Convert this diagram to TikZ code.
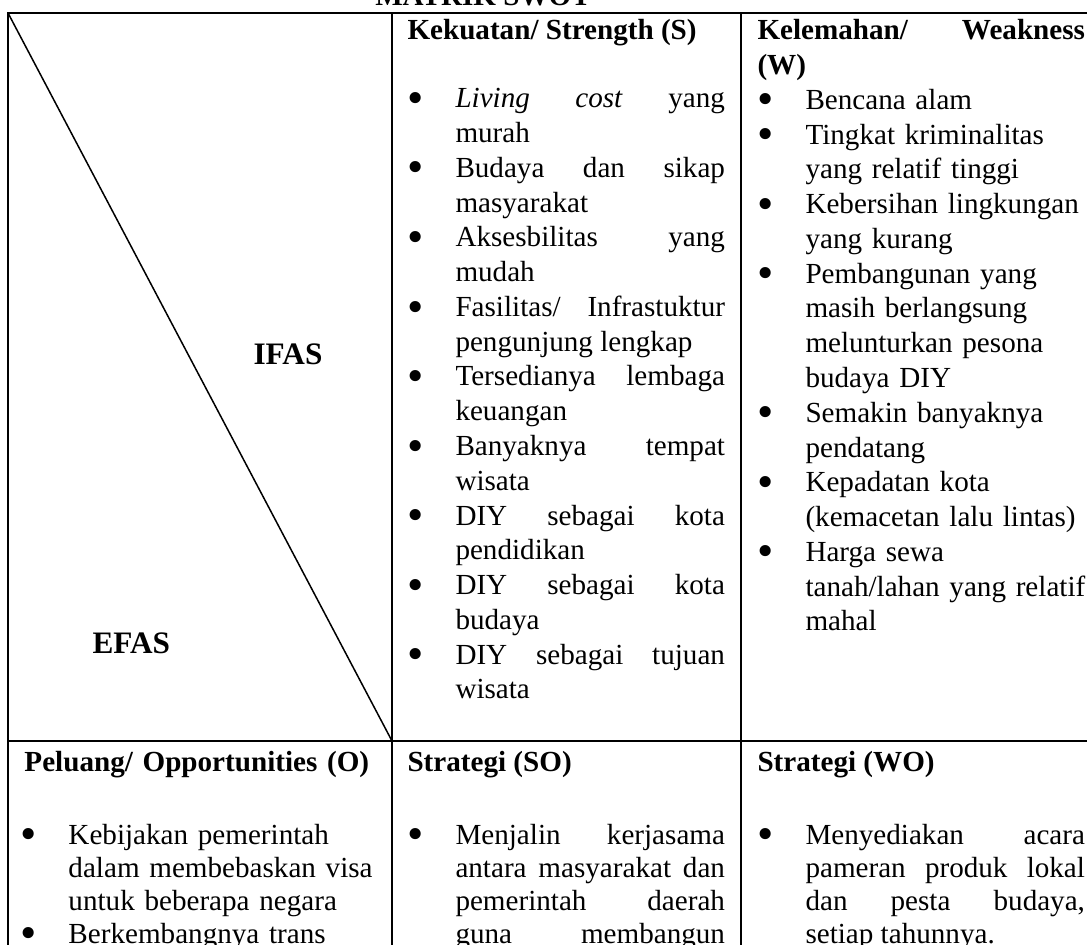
\documentclass[tikz,border=0pt]{standalone}
\usepackage{fontspec}
\setmainfont{Liberation Serif}
\usetikzlibrary{positioning}

% one bullet line of a cell
\newcommand{\swbullet}{\raisebox{-2.2pt}{\scalebox{1.6}{\textbullet}}}
\newcommand{\switem}[1]{\par\noindent\hangindent=19.2pt\hangafter=1\makebox[19.2pt][l]{\swbullet}#1}

\begin{document}
\begin{tikzpicture}[x=0.4pt, y=-0.4pt, font=\fontsize{11.65}{13.9}\selectfont]
		\tikzstyle{grid}=[draw=black, line width=1.1pt]
		\tikzstyle{diag}=[draw=black, line width=0.6pt]
		\tikzstyle{cell}=[anchor=base west, inner sep=0pt, align=justify]
		\tikzstyle{lowcell}=[cell, font=\fontsize{11.65}{13.2}\selectfont]
		\tikzstyle{corner}=[anchor=base west, inner sep=0pt, font=\fontsize{12.5}{14}\selectfont\bfseries]

		\useasboundingbox (0,0) rectangle (1087,945);

		% table grid
		\coordinate (tl) at (8,13);
		\coordinate (tr) at (1100,13);
		\coordinate (bl) at (8,960);
		\coordinate (c1t) at (392,13);
		\coordinate (c1b) at (392,960);
		\coordinate (c2t) at (741,13);
		\coordinate (c2b) at (741,960);
		\coordinate (ml) at (8,741);
		\coordinate (mr) at (1100,741);
		\coordinate (mx) at (392,741);

		\draw[grid] (tr) -- (tl) -- (bl);
		\draw[grid] (c1t) -- (c1b);
		\draw[grid] (c2t) -- (c2b);
		\draw[grid] (ml) -- (mr);
		\draw[diag] (tl) -- (mx);

		\node[anchor=base, inner sep=0pt] (title) at (483,6) {\textbf{MATRIK SWOT}};

		\node[corner] (ifas) at (253,365) {IFAS};
		\node[corner] (efas) at (92,653) {EFAS};

		% strengths
		\node[cell, text width=127pt] (str) at (407,40) {\textbf{Kekuatan/ Strength (S)}\par\vspace{13.3pt}
			\switem{\textit{Living} \textit{cost} yang\linebreak murah}
			\switem{Budaya dan sikap\linebreak masyarakat}
			\switem{Aksesbilitas yang\linebreak mudah}
			\switem{Fasilitas/ Infrastuktur\linebreak pengunjung lengkap}
			\switem{Tersedianya lembaga\linebreak keuangan}
			\switem{Banyaknya tempat\linebreak wisata}
			\switem{DIY sebagai kota\linebreak pendidikan}
			\switem{DIY sebagai kota\linebreak budaya}
			\switem{DIY sebagai tujuan\linebreak wisata}\par};

		% weaknesses
		\node[cell, align=left, text width=131pt] (weak) at (757,40) {\textbf{Kelemahan/\hfill Weakness}\\\textbf{(W)}
			\switem{Bencana alam}
			\switem{Tingkat kriminalitas\newline yang relatif tinggi}
			\switem{Kebersihan lingkungan\newline yang kurang}
			\switem{Pembangunan yang\newline masih berlangsung\newline melunturkan pesona\newline budaya DIY}
			\switem{Semakin banyaknya\newline pendatang}
			\switem{Kepadatan kota\newline (kemacetan lalu lintas)}
			\switem{Harga sewa\newline \mbox{tanah/lahan yang relatif}\newline mahal}\par};

		% opportunities
		\node[lowcell, align=left, text width=146pt] (opp) at (20,771) {\hspace*{1.6pt}\textbf{Peluang/ Opportunities (O)}\par\vspace{16pt}
			\switem{Kebijakan pemerintah\newline dalam membebaskan visa\newline untuk beberapa negara}
			\switem{Berkembangnya trans}\par};

		% strategies
		\node[lowcell, text width=127pt] (so) at (407,771) {\textbf{Strategi (SO)}\par\vspace{16pt}
			\switem{Menjalin kerjasama\linebreak antara masyarakat dan\linebreak pemerintah daerah\linebreak guna\hfill membangun}\par};
		\node[lowcell, text width=131pt] (wo) at (757,771) {\textbf{Strategi (WO)}\par\vspace{16pt}
			\switem{Menyediakan acara\linebreak pameran produk lokal\linebreak dan pesta budaya,\linebreak setiap tahunnya.}\par};
\end{tikzpicture}
\end{document}
